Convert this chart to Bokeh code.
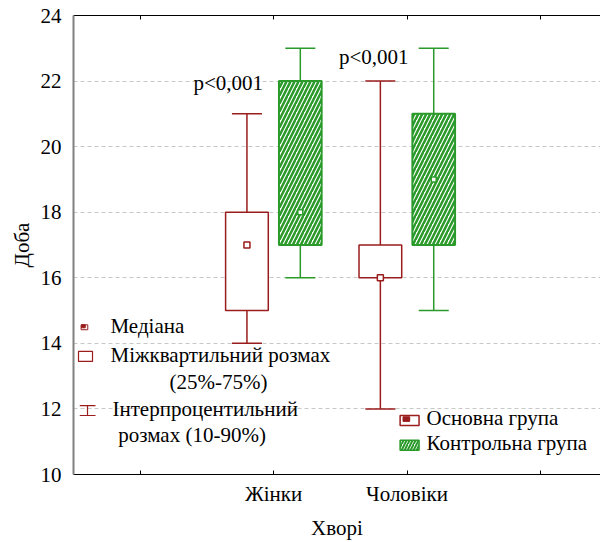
from bokeh.plotting import figure
from bokeh.models import (LinearAxis, FixedTicker, Range1d, ColumnDataSource)
from bokeh.core.properties import value
from bokeh.embed import file_html
from bokeh.resources import INLINE

# ---- data ----
categories = ["Жінки", "Чоловіки"]
cat_pos = [2, 3]
main_low = [14, 12]
main_q1 = [15, 16]
main_med = [17, 16]
main_q3 = [18, 17]
main_high = [21, 22]
ctrl_low = [16, 15]
ctrl_q1 = [17, 17]
ctrl_med = [18, 19]
ctrl_q3 = [22, 21]
ctrl_high = [23, 23]
p_labels = ["p<0,001", "p<0,001"]
y_ticks = [10, 12, 14, 16, 18, 20, 22, 24]

FONT = "Liberation Serif"
FS = "21px"
RED = "#9a1c1c"
GREEN = "#2a9a2a"

p = figure(width=600, height=542, output_backend="svg", toolbar_location=None,
           x_range=Range1d(0.5, 4.45), y_range=Range1d(10, 24),
           min_border_left=73, min_border_right=0, min_border_top=15,
           min_border_bottom=68)
p.outline_line_color = None
p.xgrid.grid_line_color = None
p.ygrid.grid_line_color = "#c8c8c8"
p.ygrid.grid_line_dash = "4 3"
p.ygrid.ticker = FixedTicker(ticks=y_ticks)

# axes
p.xaxis.ticker = FixedTicker(ticks=cat_pos, minor_ticks=[1, 4])
p.xaxis.major_label_overrides = {cat_pos[0]: categories[0], cat_pos[1]: categories[1]}
p.xaxis.major_tick_in = 4
p.xaxis.major_tick_out = 0
p.xaxis.minor_tick_in = 4
p.xaxis.minor_tick_out = 0
p.xaxis.minor_tick_line_color = "black"
p.xaxis.axis_line_color = "black"
p.xaxis.major_label_text_font = FONT
p.xaxis.major_label_text_font_size = FS
p.xaxis.major_label_text_color = "black"
p.xaxis.major_label_standoff = 7
p.xaxis.axis_label = "Хворі"
p.xaxis.axis_label_text_font = FONT
p.xaxis.axis_label_text_font_size = FS
p.xaxis.axis_label_text_font_style = "normal"
p.xaxis.axis_label_text_color = "black"
p.xaxis.axis_label_standoff = 7

p.yaxis.ticker = FixedTicker(ticks=y_ticks)
p.yaxis.major_tick_line_color = None
p.yaxis.minor_tick_line_color = None
p.yaxis.axis_line_color = "#808080"
p.yaxis.axis_line_width = 2
p.yaxis.major_label_text_font = FONT
p.yaxis.major_label_text_font_size = FS
p.yaxis.major_label_text_color = "black"
p.yaxis.major_label_standoff = 6
p.yaxis.axis_label = "Доба"
p.yaxis.axis_label_text_font = FONT
p.yaxis.axis_label_text_font_size = FS
p.yaxis.axis_label_text_font_style = "normal"
p.yaxis.axis_label_text_color = "black"
p.yaxis.axis_label_standoff = 4

top = LinearAxis(ticker=FixedTicker(ticks=[], minor_ticks=[1, 2, 3, 4]),
                 minor_tick_in=4, minor_tick_out=0, minor_tick_line_color="black",
                 major_tick_line_color=None, major_label_standoff=0,
                 axis_line_color="black")
p.add_layout(top, "above")

off = 0.2
bw = 0.32
cw = 0.225

def draw(xs, low, q1, med, q3, high, color, hatch, lw, msize):
    src = ColumnDataSource(dict(x=xs, low=low, q1=q1, med=med, q3=q3, high=high,
                                x0=[x - cw / 2 for x in xs], x1=[x + cw / 2 for x in xs]))
    p.segment(x0="x", y0="low", x1="x", y1="q1", source=src, line_color=color, line_width=1.5)
    p.segment(x0="x", y0="q3", x1="x", y1="high", source=src, line_color=color, line_width=1.5)
    p.segment(x0="x0", y0="low", x1="x1", y1="low", source=src, line_color=color, line_width=1.5)
    p.segment(x0="x0", y0="high", x1="x1", y1="high", source=src, line_color=color, line_width=1.5)
    if hatch:
        p.vbar(x="x", width=bw, bottom="q1", top="q3", source=src, fill_color="white",
               line_color=color, line_width=lw, hatch_pattern="/", hatch_color=color,
               hatch_scale=8, hatch_weight=2.5)
    else:
        p.vbar(x="x", width=bw, bottom="q1", top="q3", source=src, fill_color="white",
               line_color=color, line_width=lw)
    p.scatter(x="x", y="med", source=src, marker="square", size=msize, fill_color="white",
              line_color=color, line_width=1.5)

draw([c - off for c in cat_pos], main_low, main_q1, main_med, main_q3, main_high, RED, False, 1.5, 6)
draw([c + off for c in cat_pos], ctrl_low, ctrl_q1, ctrl_med, ctrl_q3, ctrl_high, GREEN, True, 2, 5)

# p-value labels
p.text(x=[cat_pos[0] - 0.34, cat_pos[1] - 0.25], y=[21.95, 22.72], text=p_labels,
       text_font=value(FONT), text_font_size=FS, text_align="center",
       text_baseline="middle", text_color="black")

# ---- legend 1 (statistics) ----
p.rect(x=[0.582], y=[14.49], width=0.05, height=0.15, fill_color="white", line_color=RED,
       line_width=1)
p.rect(x=[0.574], y=[14.52], width=0.028, height=0.09, fill_color=RED, line_color=RED)
p.rect(x=[0.59], y=[13.6], width=0.105, height=0.305, fill_color="white", line_color=RED,
       line_width=1.2)
p.segment(x0=[0.547, 0.547, 0.605], y0=[12.1, 11.8, 11.8], x1=[0.665, 0.665, 0.605],
          y1=[12.1, 11.8, 12.1], line_color=RED, line_width=1.2)
p.text(x=[0.777, 0.777, 0.792, 0.835], y=[14.52, 13.63, 11.99, 11.2],
       text=["Медіана", "Міжквартильний розмах", "Інтерпроцентильний", "розмах (10-90%)"],
       text_font=value(FONT), text_font_size=FS, text_align="left",
       text_baseline="middle", text_color="black")
p.text(x=[1.587], y=[12.81], text=["(25%-75%)"],
       text_font=value(FONT), text_font_size=FS, text_align="center",
       text_baseline="middle", text_color="black")

# ---- legend 2 (groups) ----
p.rect(x=[3.019], y=[11.65], width=0.142, height=0.305, fill_color="white", line_color=RED,
       line_width=1.5)
p.rect(x=[2.995], y=[11.69], width=0.05, height=0.14, fill_color=RED, line_color=RED)
p.rect(x=[3.019], y=[10.89], width=0.142, height=0.305, fill_color="white", line_color=GREEN,
       line_width=1.5, hatch_pattern="/", hatch_color=GREEN, hatch_scale=6, hatch_weight=2)
p.text(x=[3.146, 3.146], y=[11.71, 10.95], text=["Основна група", "Контрольна група"],
       text_font=value(FONT), text_font_size=FS, text_align="left",
       text_baseline="middle", text_color="black")

open("out.html", "w").write(file_html(p, INLINE))
